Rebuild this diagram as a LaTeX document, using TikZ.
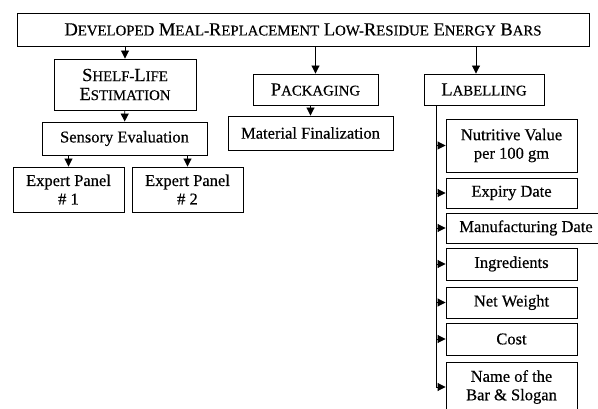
\documentclass[tikz,border=0pt]{standalone}
\usepackage{fontspec}
\setmainfont{Liberation Serif}[FakeBold=0.4]
\usetikzlibrary{arrows.meta,positioning}

% first letter full size, rest as small capitals
\newcommand{\fsc}[2]{#1{\fontsize{14.8}{16}\selectfont #2}}

\begin{document}
\begin{tikzpicture}[
			x = 1pt, y = -1pt,
			box/.style = {draw, line width=0.9pt, inner sep=2pt, align=center,
				font=\fontsize{16.5}{18.5}\selectfont},
			capbox/.style = {box, font=\fontsize{18.5}{19}\selectfont},
			arr/.style = {-{Triangle[length=8pt,width=8pt]}, line width=0.9pt},
			leaf/.style = {box, minimum width=131pt}
			]

			\clip (0,0) rectangle (598,409);

			\node[capbox, minimum width=572pt, minimum height=33pt] (bars) at (303,29.5)
				{\fsc{D}{EVELOPED} \fsc{M}{EAL-}\fsc{R}{EPLACEMENT} \fsc{L}{OW-}\fsc{R}{ESIDUE} \fsc{E}{NERGY} \fsc{B}{ARS}};

			% shelf-life branch
			\node[capbox, minimum width=142pt, minimum height=51pt] (shelf) at (125,84.5)
				{\fsc{S}{HELF-}\fsc{L}{IFE}\\\fsc{E}{STIMATION}};
			\node[box, minimum width=165pt, minimum height=33pt] (sens) at (124.5,138.5) {Sensory Evaluation};
			\node[box, minimum width=111pt, minimum height=45pt] (ep1) at (68.5,189.5) {Expert Panel\\\# 1};
			\node[box, minimum width=111pt, minimum height=45pt] (ep2) at (187.5,189.5) {Expert Panel\\\# 2};

			% packaging branch
			\node[capbox, minimum width=125pt, minimum height=31pt] (pack) at (315.5,89.5) {\fsc{P}{ACKAGING}};
			\node[box, minimum width=165pt, minimum height=34pt] (mat) at (310.5,133) {Material Finalization};

			% labelling branch
			\node[capbox, minimum width=120pt, minimum height=31pt] (lab) at (484,89.5) {\fsc{L}{ABELLING}};
			\node[leaf, minimum height=53pt] (nut) at (511.5,145.5) {Nutritive Value\\per 100 gm};
			\node[leaf, minimum height=30pt] (exp) at (511.5,193) {Expiry Date};
			\node[box, minimum width=160pt, minimum height=30pt] (man) at (526,228) {Manufacturing Date};
			\node[leaf, minimum height=32pt] (ing) at (511.5,264) {Ingredients};
			\node[leaf, minimum height=31pt] (net) at (511.5,302.5) {Net Weight};
			\node[leaf, minimum height=32pt] (cost) at (511.5,339) {Cost};
			\node[leaf, minimum height=50pt] (name) at (511.5,387) {Name of the\\Bar \& Slogan};

			\draw[arr] (bars.south -| shelf.north) -- (shelf.north);
			\draw[arr] (bars.south -| pack.north) -- (pack.north);
			\draw[arr] (bars.south -| 476,0) -- ([xshift=-8pt]lab.north);
			\draw[arr] (shelf) -- (sens);
			\draw[arr] (sens.south -| ep1.north) -- (ep1.north);
			\draw[arr] (sens.south -| ep2.north) -- (ep2.north);
			\draw[arr] (pack.south -| mat.north) -- (mat.north);

			\coordinate (spine) at ([xshift=-48pt]lab.south);
			\draw[line width=0.9pt] (spine) -- (spine |- name.west);
			\foreach \c in {nut,exp,man,ing,net,cost,name}
				\draw[arr] (spine |- \c.west) -- (\c.west);

		\end{tikzpicture}
\end{document}
